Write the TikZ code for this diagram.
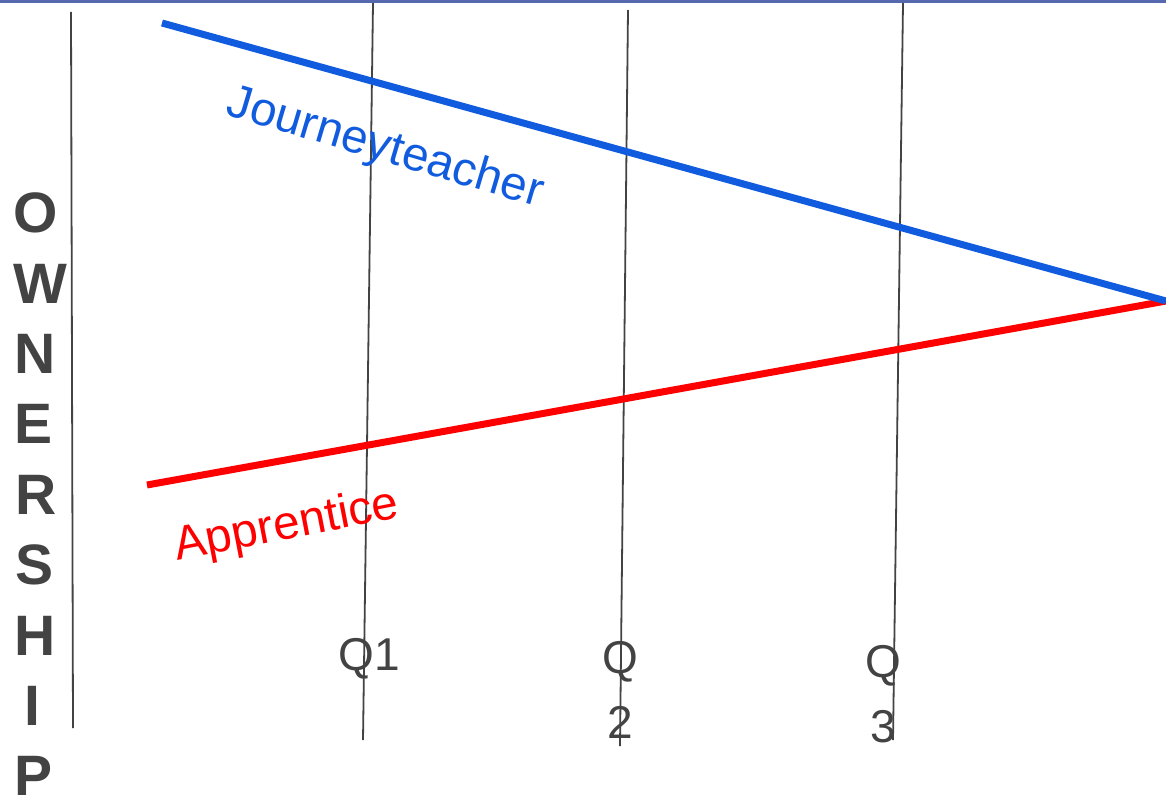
\documentclass[tikz,border=0pt]{standalone}
\usepackage{fontspec}
\setmainfont{Liberation Sans}
\definecolor{topbar}{RGB}{85,104,176}
\definecolor{jblue}{RGB}{17,92,222}
\definecolor{dgray}{RGB}{67,67,67}
\definecolor{jred}{RGB}{255,0,0}
\tikzset{
  gridline/.style={draw=dgray, line width=1.8pt},
  trendline/.style={line width=7pt},
  lbl/.style={inner sep=0pt, font=\fontsize{47.5}{50}\selectfont},
  qlbl/.style={inner sep=0pt, text=dgray, align=center, font=\fontsize{46}{65}\selectfont},
  vletter/.style={inner sep=0pt, anchor=base, text=dgray, font=\fontsize{57}{57}\selectfont\bfseries},
}
\begin{document}
\begin{tikzpicture}[x=1pt,y=-1pt]
\useasboundingbox (0,0) rectangle (1166,797);
\fill[white] (0,0) rectangle (1166,797);
% top bar
\coordinate (tl) at (0,1.5);
\coordinate (tr) at (1166,1.5);
\draw[topbar, line width=3pt] (tl) -- (tr);
% vertical lines
\coordinate (a0) at (71,12);   \coordinate (a1) at (73,728);
\coordinate (q1t) at (373,3);  \coordinate (q1b) at (363,740);
\coordinate (q2t) at (628,10); \coordinate (q2b) at (620,746);
\coordinate (q3t) at (903,3);  \coordinate (q3b) at (893,740);
\draw[gridline] (a0) -- (a1);
\draw[gridline] (q1t) -- (q1b);
\draw[gridline] (q2t) -- (q2b);
\draw[gridline] (q3t) -- (q3b);
% trend lines
\coordinate (js) at (162,23);
\coordinate (tip) at (1166,301);
\coordinate (as) at (147,485);
\draw[trendline, jred] (as) -- (tip);
\draw[trendline, jblue] (js) -- (tip);
% labels
\node[lbl, text=jblue, rotate=-16.5] (jt) at (385,149) {Journeyteacher};
\node[lbl, text=jred, rotate=11] (ap) at (287,527) {Apprentice};
\node[qlbl] (q1) at (369,659) {Q1};
\node[qlbl, anchor=north] (q2) at (620,641) {Q\\2};
\node[qlbl, anchor=north] (q3) at (883,645) {Q\\3};
% OWNERSHIP (base line = cap centre + half cap height)
\foreach \L/\X/\Y [count=\i] in {O/36/232,W/40.5/303,N/35/373,E/34/443,R/36/514,S/35/584,H/35/655,I/32.5/725,P/33.5/795}
  \node[vletter] (v\i) at (\X,\Y) {\L};
\end{tikzpicture}
\end{document}
